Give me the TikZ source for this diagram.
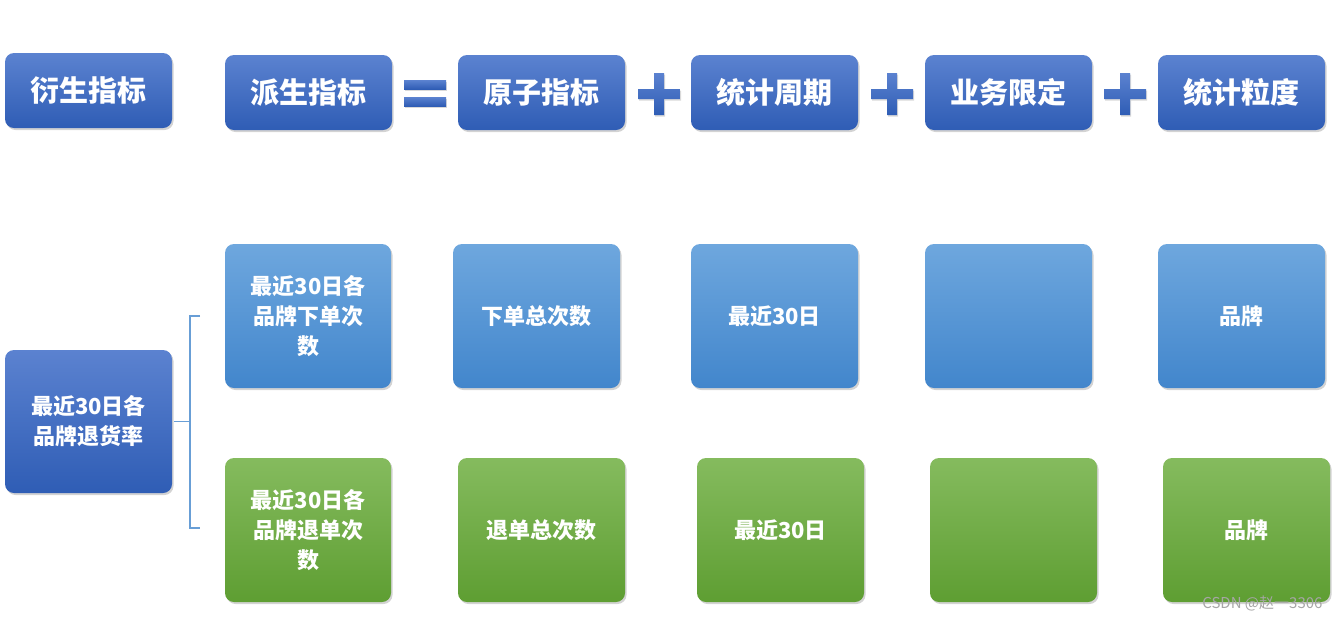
\documentclass[tikz,border=0pt]{standalone}
\usepackage{fontspec}
\newfontfamily\cjk{Noto Sans CJK SC}
\usetikzlibrary{shadows}
\definecolor{dbT}{HTML}{5B82D0}\definecolor{dbB}{HTML}{2F5DB5}
\definecolor{lbT}{HTML}{6EA7DE}\definecolor{lbB}{HTML}{4286CC}
\definecolor{gT}{HTML}{85BB5E}\definecolor{gB}{HTML}{5E9E32}
\begin{document}
\begin{tikzpicture}[x=1pt,y=-1pt,
 base/.style={rounded corners=9pt,draw=none,drop shadow={shadow xshift=1.5pt,shadow yshift=-2pt,opacity=0.35},font=\cjk\bfseries,text=white,align=center},
 hd/.style={base,top color=dbT,bottom color=dbB,font=\cjk\bfseries\fontsize{29}{32}\selectfont},
 bl/.style={base,top color=lbT,bottom color=lbB,font=\cjk\bfseries\fontsize{22}{30}\selectfont},
 gr/.style={base,top color=gT,bottom color=gB,font=\cjk\bfseries\fontsize{22}{30}\selectfont},
 lf/.style={base,top color=dbT,bottom color=dbB,font=\cjk\bfseries\fontsize{22}{30}\selectfont},
 sym/.style={top color=dbT,bottom color=dbB,draw=none,drop shadow={shadow xshift=1pt,shadow yshift=-1.5pt,opacity=0.3}},
 br/.style={draw=lbB!80,line width=1.2pt}]
\useasboundingbox (0,0) rectangle (1340,622);
\newcommand\bx[6]{\path[#1] (#2,#3) rectangle (#4,#5);\node[font=\cjk\bfseries] at ({(#2+#4)/2},{(#3+#5)/2}) {};}
\node[hd,minimum width=167pt,minimum height=75pt] (d) at (88.5,90.5) {衍生指标};
\node[hd,minimum width=167pt,minimum height=75pt] (p) at (308.5,92.5) {派生指标};
\node[hd,minimum width=167pt,minimum height=75pt] (a) at (541.5,92.5) {原子指标};
\node[hd,minimum width=167pt,minimum height=75pt] (t) at (774.5,92.5) {统计周期};
\node[hd,minimum width=167pt,minimum height=75pt] (b) at (1008.5,92.5) {业务限定};
\node[hd,minimum width=167pt,minimum height=75pt] (g) at (1241.5,92.5) {统计粒度};
% equals
\path[sym] (404,80) rectangle (446,89);
\path[sym] (404,97) rectangle (446,106);
% plus signs
\foreach \cx in {659,892,1125}{
 \path[sym] (\cx-21,89) -- (\cx-5,89) -- (\cx-5,73) -- (\cx+5,73) -- (\cx+5,89) -- (\cx+21,89) -- (\cx+21,99) -- (\cx+5,99) -- (\cx+5,115) -- (\cx-5,115) -- (\cx-5,99) -- (\cx-21,99) -- cycle;}
% row 2
\node[bl,minimum width=166pt,minimum height=144pt,text width=140pt] (b1) at (308,316) {最近30日各\\品牌下单次\\数};
\node[bl,minimum width=167pt,minimum height=144pt] (b2) at (536.5,316) {下单总次数};
\node[bl,minimum width=167pt,minimum height=144pt] (b3) at (774.5,316) {最近30日};
\node[bl,minimum width=167pt,minimum height=144pt] (b4) at (1008.5,316) {};
\node[bl,minimum width=167pt,minimum height=144pt] (b5) at (1241.5,316) {品牌};
% row 3
\node[gr,minimum width=166pt,minimum height=144pt,text width=140pt] (g1) at (308,530) {最近30日各\\品牌退单次\\数};
\node[gr,minimum width=167pt,minimum height=144pt] (g2) at (541.5,530) {退单总次数};
\node[gr,minimum width=167pt,minimum height=144pt] (g3) at (780.5,530) {最近30日};
\node[gr,minimum width=167pt,minimum height=144pt] (g4) at (1013.5,530) {};
\node[gr,minimum width=167pt,minimum height=144pt] (g5) at (1246.5,530) {品牌};
% left
\node[lf,minimum width=167pt,minimum height=143pt] (l) at (88.5,421.5) {最近30日各\\品牌退货率};
% brace
\coordinate (bt) at (200,316); \coordinate (bb) at (200,528);
\draw[br] (bt) -- (190,316) -- (190,528) -- (bb);
\draw[br] (l.east) ++(2,0) -- (190,421.5);
\node[text=gray!70,font=\cjk\fontsize{15}{16}\selectfont,anchor=east] (wm) at (1326,603) {CSDN @赵一3306};
\end{tikzpicture}
\end{document}
